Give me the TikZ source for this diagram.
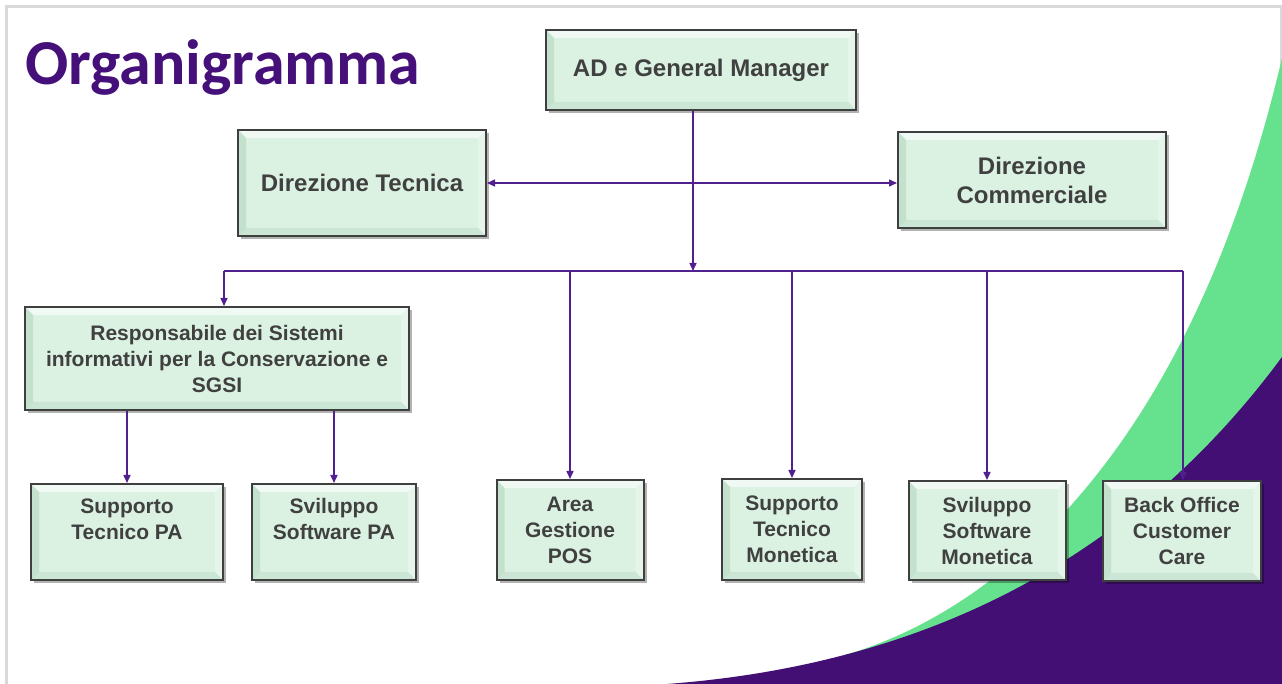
\documentclass[tikz,border=0pt]{standalone}
\usepackage{fontspec}
\setmainfont{Liberation Sans}
\newfontfamily\titlefont{Carlito}
\usetikzlibrary{arrows.meta,positioning,shadows,calc}

\definecolor{boxfill}{HTML}{DBF2E2}
\definecolor{boxdark}{HTML}{A9CDB4}
\definecolor{boxline}{HTML}{3F3F3F}
\definecolor{boxtext}{HTML}{404040}
\definecolor{wavegreen}{HTML}{66E28E}
\definecolor{wavepurple}{HTML}{430F75}
\definecolor{titlepurple}{HTML}{46107A}
\definecolor{linkpurple}{HTML}{50208F}

\begin{document}
\begin{tikzpicture}[
  x=0.5pt, y=-0.5pt,
  box/.style={draw=boxline, line width=1pt, fill=boxfill, text=boxtext,
              font=\bfseries\fontsize{12}{14.5}\selectfont, align=center, inner sep=2pt,
              drop shadow={shadow xshift=1.5pt, shadow yshift=-1.5pt, fill=black, opacity=.3},
              path picture={
                \fill[white, opacity=.6] (path picture bounding box.north west) -- (path picture bounding box.north east)
                  -- ([shift={(-4pt,-4pt)}]path picture bounding box.north east) -- ([shift={(4pt,-4pt)}]path picture bounding box.north west) -- cycle;
                \fill[boxdark, opacity=.45] (path picture bounding box.north west) -- ([shift={(4pt,-4pt)}]path picture bounding box.north west)
                  -- ([shift={(4pt,4pt)}]path picture bounding box.south west) -- (path picture bounding box.south west) -- cycle;
                \fill[boxdark, opacity=.3] (path picture bounding box.south west) -- (path picture bounding box.south east)
                  -- ([shift={(-4pt,4pt)}]path picture bounding box.south east) -- ([shift={(4pt,4pt)}]path picture bounding box.south west) -- cycle;
                \fill[white, opacity=.3] (path picture bounding box.north east) -- ([shift={(-4pt,-4pt)}]path picture bounding box.north east)
                  -- ([shift={(-4pt,4pt)}]path picture bounding box.south east) -- (path picture bounding box.south east) -- cycle;
              }},
  small/.style={box, font=\bfseries\fontsize{10.5}{13}\selectfont},
  link/.style={draw=linkpurple, line width=0.75pt},
  arr/.style={link, -{Triangle[length=4pt, width=3.5pt]}},
  dblarr/.style={link, {Triangle[length=4pt, width=3.5pt]}-{Triangle[length=4pt, width=3.5pt]}}
]
\useasboundingbox (0,0) rectangle (1282,684);
\clip (0,0) rectangle (1282,684);

% ---------------- slide background ----------------
\fill[white] (0,0) rectangle (1282,684);
\draw[black!15, line width=1.5pt] (6,700) -- (6,7) -- (1281,7) -- (1281,700);
\fill[wavegreen] (1282,58) .. controls (1190,450) and (1000,610) .. (845,655) -- (1282,700) -- cycle;
\fill[wavepurple] (1282,357) .. controls (1110,590) and (880,668) .. (667,684) -- (667,700) -- (1282,700) -- cycle;

\node[anchor=base west, text=titlepurple, font=\titlefont\bfseries\fontsize{32}{38}\selectfont, inner sep=0pt]
  (title) at (25,85) {Organigramma};

% ---------------- top: management ----------------
\node[box, minimum width=155pt, minimum height=40pt] (ad) at (701,70) {AD e General Manager};
\node[box, minimum width=124pt, minimum height=53pt] (dirtec) at (362,183) {Direzione Tecnica};
\node[box, minimum width=134pt, minimum height=48pt] (dircom) at (1032,180) {Direzione\\Commerciale};

\coordinate (busL) at (224,271);
\coordinate (busR) at (1183,271);

\draw[dblarr] (dirtec.east) -- (dirtec.east -| dircom.west);
\draw[arr] ([xshift=-4pt]ad.south) -- ([xshift=-4pt]ad.south |- busL);
\draw[link] (busL) -- (busR);

% ---------------- middle: systems ----------------
\node[small, minimum width=192pt, minimum height=51.5pt] (resp) at (217,358.5)
  {Responsabile dei Sistemi\\informativi per la Conservazione e\\SGSI};
\draw[arr] (busL) -- (busL |- resp.north);

% ---------------- bottom: operative units ----------------
\node[small, minimum width=96pt, minimum height=48pt] (stpa) at (127,532) {Supporto\\Tecnico PA\\\mbox{}};
\node[small, minimum width=82pt, minimum height=48pt] (sspa) at (334,532) {Sviluppo\\Software PA\\\mbox{}};
\node[small, minimum width=73.5pt, minimum height=50pt] (pos) at (570,530) {Area\\Gestione\\POS};
\node[small, minimum width=70pt, minimum height=50.5pt] (stmon) at (792,529.5) {Supporto\\Tecnico\\Monetica};
\node[small, minimum width=78.5pt, minimum height=49.5pt] (ssmon) at (987,530.5) {Sviluppo\\Software\\Monetica};
\node[small, minimum width=79pt, minimum height=50pt] (bocc) at (1182,531) {Back Office\\Customer\\Care};

\draw[arr] (resp.south -| stpa.north) -- (stpa.north);
\draw[arr] (resp.south -| sspa.north) -- (sspa.north);
\draw[arr] (busL -| pos.north) -- (pos.north);
\draw[arr] (busL -| stmon.north) -- (stmon.north);
\draw[arr] (busL -| ssmon.north) -- (ssmon.north);
\draw[arr] (busR) -- (busR |- bocc.north);

\end{tikzpicture}
\end{document}
